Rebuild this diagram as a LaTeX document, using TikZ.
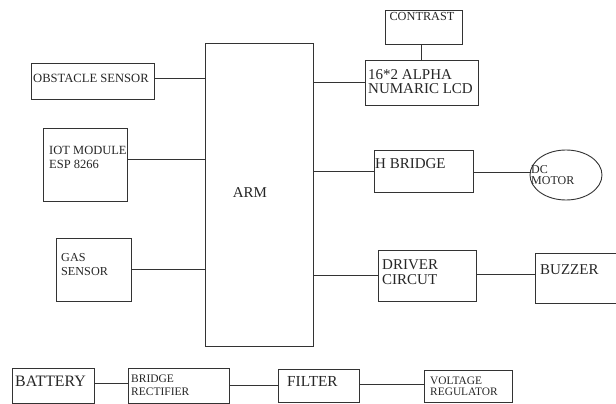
\documentclass[tikz,border=0pt]{standalone}
\usepackage{fontspec}
\setmainfont{Liberation Serif}
\usetikzlibrary{shapes.geometric}
\tikzset{
  box/.style={draw=black!80, line width=0.9pt, rectangle, inner sep=0pt},
  wire/.style={draw=black!80, line width=0.9pt},
  lbl/.style={inner sep=0pt, align=left, anchor=west, text=black!85},
}
\newcommand{\fs}[2]{\fontsize{#1}{#2}\selectfont}
\begin{document}
\begin{tikzpicture}[x=1pt,y=-1pt]
\useasboundingbox (0,0) rectangle (616,404);
\clip (0,0) rectangle (616,404);
% boxes
\node[box, minimum width=108pt, minimum height=303pt] (arm) at (259,194.5) {};
\node[box, minimum width=123pt, minimum height=36pt] (obs) at (92.5,81) {};
\node[box, minimum width=84pt, minimum height=73pt] (iot) at (85,164.5) {};
\node[box, minimum width=75pt, minimum height=63pt] (gas) at (93.5,269.5) {};
\node[box, minimum width=77pt, minimum height=34pt] (con) at (423.5,27) {};
\node[box, minimum width=113pt, minimum height=45pt] (lcd) at (421.5,82.5) {};
\node[box, minimum width=99pt, minimum height=42pt] (hb) at (423.5,171) {};
\node[box, ellipse, minimum width=72pt, minimum height=50pt] (motor) at (566,175) {};
\node[box, minimum width=98pt, minimum height=51pt] (drv) at (427,275.5) {};
\node[box, minimum width=100pt, minimum height=50pt] (buz) at (585,278) {};
\node[box, minimum width=82pt, minimum height=35pt] (bat) at (53,385.5) {};
\node[box, minimum width=101pt, minimum height=35pt] (brg) at (178.5,385.5) {};
\node[box, minimum width=81pt, minimum height=33pt] (fil) at (318.5,385.5) {};
\node[box, minimum width=88pt, minimum height=32pt] (vr) at (468,386) {};
% labels
\node[lbl, font=\fs{12.6}{13}] (tobs) at (33,78) {OBSTACLE SENSOR};
\node[lbl, font=\fs{12.5}{14}] (tiot) at (49,157) {IOT MODULE\\ESP 8266};
\node[lbl, anchor=center, font=\fs{15}{16}] (tarm) at (250,193) {ARM};
\node[lbl, font=\fs{12.2}{14}] (tgas) at (61,265) {GAS\\SENSOR};
\node[lbl, anchor=center, font=\fs{12.3}{14}] (tcon) at (422,16) {CONTRAST};
\node[lbl, font=\fs{15}{14}] (tlcd) at (368,82) {16*2 ALPHA\\NUMARIC LCD};
\node[lbl, font=\fs{15}{16}] (thb) at (375,164) {H BRIDGE};
\node[lbl, font=\fs{12}{11}] (tmot) at (531,175) {DC\\MOTOR};
\node[lbl, font=\fs{15}{15}] (tdrv) at (382,272.5) {DRIVER\\CIRCUT};
\node[lbl, font=\fs{15}{16}] (tbuz) at (540,270) {BUZZER};
\node[lbl, font=\fs{15.9}{16}] (tbat) at (15,381) {BATTERY};
\node[lbl, font=\fs{11.5}{12.5}] (tbrg) at (131,385) {BRIDGE\\RECTIFIER};
\node[lbl, font=\fs{15.3}{16}] (tfil) at (287,381) {FILTER};
\node[lbl, font=\fs{11.4}{11.5}] (tvr) at (430,386.5) {VOLTAGE\\REGULATOR};
% connector anchor points
\coordinate (obsc) at ([yshift=3pt]obs.east);
\coordinate (iotc) at ([yshift=5.5pt]iot.east);
\coordinate (hbc) at ([yshift=-1pt]hb.east);
\coordinate (drvc) at ([yshift=1pt]drv.east);
\coordinate (batc) at ([yshift=2.5pt]bat.east);
\coordinate (filc) at ([yshift=1.5pt]fil.east);
% connectors
\draw[wire] (obsc) -- (obsc -| arm.west);
\draw[wire] (iotc) -- (iotc -| arm.west);
\draw[wire] (gas.east) -- (gas.east -| arm.west);
\draw[wire] (lcd.west) -- (lcd.west -| arm.east);
\draw[wire] (lcd.north) -- (lcd.north |- con.south);
\draw[wire] (hb.west) -- (hb.west -| arm.east);
\draw[wire] (hbc) -- (hbc -| motor.west);
\draw[wire] (drv.west) -- (drv.west -| arm.east);
\draw[wire] (drvc) -- (drvc -| buz.west);
\draw[wire] (batc) -- (batc -| brg.west);
\draw[wire] (brg.east) -- (brg.east -| fil.west);
\draw[wire] (filc) -- (filc -| vr.west);
\end{tikzpicture}
\end{document}
